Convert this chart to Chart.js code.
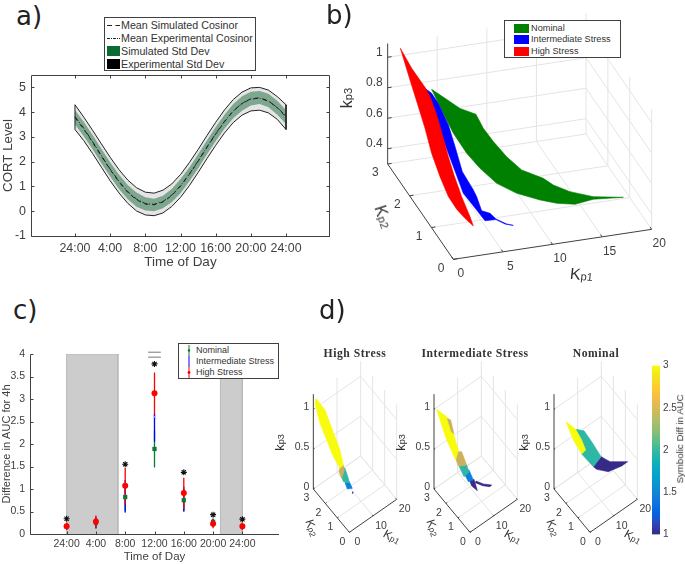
<!DOCTYPE html>
<html>
<head>
<meta charset="utf-8">
<script src="https://cdn.jsdelivr.net/npm/chart.js@4/dist/chart.umd.min.js"></script>
<style>
html, body { margin: 0; padding: 0; background: #fff; }
#page { position: relative; width: 685px; height: 564px; overflow: hidden; font-family: "Liberation Sans", sans-serif; color: #404040; }
canvas { position: absolute; }
.panel { position: absolute; font-family: "DejaVu Sans", sans-serif; font-size: 26px; line-height: 30px; color: #222; }
.legend { position: absolute; background: #fff; border: 1px solid #404040; box-sizing: border-box; color: #333; }
.row { position: absolute; white-space: nowrap; }
.swatch { position: absolute; }
.legend svg { position: absolute; left: 0; top: 0; }
.title3d { position: absolute; font-family: "Liberation Serif", serif; font-weight: bold; font-size: 11.7px; letter-spacing: 0.5px; color: #333; white-space: nowrap; transform: translateX(-50%); }
.klabel { position: absolute; white-space: nowrap; line-height: 1; color: #333; transform-origin: center; }
.klabel sub { font-size: 70%; vertical-align: -30%; line-height: 0; }
</style>
</head>
<body>
<div id="page">
  <canvas id="chartA" width="340" height="215" style="left:0;top:60px"></canvas>
  <canvas id="chartB" width="355" height="290" style="left:330px;top:0"></canvas>
  <canvas id="chartC" width="290" height="229" style="left:0;top:335px"></canvas>
  <canvas id="chartHigh" width="125" height="224" style="left:290px;top:340px"></canvas>
  <canvas id="chartInter" width="125" height="224" style="left:411px;top:340px"></canvas>
  <canvas id="chartNom" width="125" height="224" style="left:531px;top:340px"></canvas>
  <canvas id="chartBar" width="40" height="190" style="left:645px;top:355px"></canvas>

  <div class="panel" style="left:16px;top:1px">a)</div>
  <div class="panel" style="left:326px;top:0">b)</div>
  <div class="panel" style="left:13px;top:295px">c)</div>
  <div class="panel" style="left:319px;top:295px">d)</div>

  <div class="legend" style="left:104px;top:17px;width:152px;height:54px;font-size:10.7px">
    <svg width="152" height="54">
      <line x1="2" x2="15" y1="7.5" y2="7.5" stroke="#222" stroke-dasharray="5 3.5"/>
      <line x1="2" x2="15" y1="20.5" y2="20.5" stroke="#222" stroke-dasharray="3 1 1 1"/>
    </svg>
    <div class="swatch" style="left:2px;top:28px;width:13px;height:10px;background:#0a6b33"></div>
    <div class="swatch" style="left:2px;top:41px;width:13px;height:10px;background:#000"></div>
    <div class="row" style="left:16px;top:1px">Mean Simulated Cosinor</div>
    <div class="row" style="left:16px;top:14px">Mean Experimental Cosinor</div>
    <div class="row" style="left:16px;top:27px">Simulated Std Dev</div>
    <div class="row" style="left:16px;top:40px">Experimental Std Dev</div>
  </div>

  <div class="legend" style="left:504px;top:20px;width:117px;height:38px;font-size:9.2px">
    <div class="swatch" style="left:9px;top:3px;width:15px;height:9px;background:#008000"></div>
    <div class="swatch" style="left:9px;top:14px;width:15px;height:9px;background:#0000ff"></div>
    <div class="swatch" style="left:9px;top:26px;width:15px;height:9px;background:#ff0000"></div>
    <div class="row" style="left:26px;top:2px">Nominal</div>
    <div class="row" style="left:26px;top:13px">Intermediate Stress</div>
    <div class="row" style="left:26px;top:25px">High Stress</div>
  </div>

  <div class="legend" style="left:178px;top:343px;width:101px;height:36px;font-size:9px">
    <svg width="101" height="36">
      <line x1="10" x2="10" y1="1" y2="12" stroke="#0a7a30"/><circle cx="10" cy="6.5" r="1.2" fill="#0a7a30"/>
      <line x1="10" x2="10" y1="12" y2="23" stroke="#0000ff"/>
      <line x1="10" x2="10" y1="23" y2="34" stroke="#ff0000"/><circle cx="10" cy="28.5" r="1.4" fill="#ff0000"/>
    </svg>
    <div class="row" style="left:17px;top:1px">Nominal</div>
    <div class="row" style="left:17px;top:12px">Intermediate Stress</div>
    <div class="row" style="left:17px;top:23px">High Stress</div>
  </div>

  <div class="title3d" style="left:355px;top:347px">High Stress</div>
  <div class="title3d" style="left:475px;top:347px">Intermediate Stress</div>
  <div class="title3d" style="left:596px;top:347px">Nominal</div>

  <div class="klabel" style="left:337px;top:90px;font-size:16px;transform:rotate(-90deg)">k<sub>p3</sub></div>
  <div class="klabel" style="left:371px;top:209px;font-size:16px;transform:rotate(72deg)">K<sub>p2</sub></div>
  <div class="klabel" style="left:570px;top:267px;font-size:16px;transform:rotate(6deg)">K<sub>p1</sub></div>

  <div class="klabel" style="left:271px;top:436px;font-size:13px;transform:rotate(-90deg)">k<sub>p3</sub></div>
  <div class="klabel" style="left:392px;top:436px;font-size:13px;transform:rotate(-90deg)">k<sub>p3</sub></div>
  <div class="klabel" style="left:515px;top:436px;font-size:13px;transform:rotate(-90deg)">k<sub>p3</sub></div>
  <div class="klabel" style="left:303px;top:522px;font-size:12px;transform:rotate(72deg)">K<sub>p2</sub></div>
  <div class="klabel" style="left:424px;top:522px;font-size:12px;transform:rotate(72deg)">K<sub>p2</sub></div>
  <div class="klabel" style="left:544px;top:522px;font-size:12px;transform:rotate(72deg)">K<sub>p2</sub></div>
  <div class="klabel" style="left:383px;top:531px;font-size:12px;transform:rotate(30deg)">K<sub>p1</sub></div>
  <div class="klabel" style="left:504px;top:531px;font-size:12px;transform:rotate(30deg)">K<sub>p1</sub></div>
  <div class="klabel" style="left:624px;top:531px;font-size:12px;transform:rotate(30deg)">K<sub>p1</sub></div>

  <div class="klabel" style="left:635px;top:434px;font-size:9.7px;width:90px;text-align:center;transform:rotate(-90deg)">Symbolic Diff in AUC</div>
</div>

<script>
document.addEventListener("DOMContentLoaded", () => {

/* PANEL A DATA */

const hours = [0,1,2,3,4,5,6,7,8,9,10,11,12,13,14,15,16,17,18,19,20,21,22,23,24];
const expUpper = [4.30,3.80,3.27,2.72,2.18,1.68,1.26,0.95,0.77,0.73,0.85,1.10,1.48,1.96,2.49,3.05,3.59,4.09,4.51,4.81,4.98,5.00,4.89,4.63,4.30];
const expLower = [3.30,2.85,2.33,1.78,1.23,0.74,0.32,0.01,-0.15,-0.18,-0.07,0.19,0.56,1.03,1.56,2.12,2.66,3.16,3.58,3.88,4.05,4.08,3.97,3.71,3.30];
const simUpper = [4.08,3.61,3.08,2.52,1.98,1.48,1.06,0.76,0.56,0.50,0.62,0.90,1.30,1.77,2.30,2.86,3.40,3.90,4.33,4.64,4.82,4.85,4.74,4.46,4.08];
const simLower = [3.50,3.03,2.50,1.94,1.40,0.90,0.48,0.18,0.03,0.00,0.12,0.36,0.73,1.20,1.73,2.29,2.83,3.33,3.75,4.06,4.27,4.33,4.20,3.90,3.52];
const simMean = [3.78,3.31,2.78,2.22,1.68,1.18,0.76,0.46,0.29,0.26,0.37,0.63,1.01,1.48,2.01,2.57,3.11,3.61,4.04,4.35,4.54,4.58,4.46,4.18,3.80];
const expMean = [3.82,3.35,2.81,2.25,1.70,1.21,0.79,0.49,0.31,0.28,0.39,0.65,1.03,1.50,2.03,2.59,3.13,3.63,4.05,4.36,4.53,4.56,4.44,4.19,3.84];
const timeTicks = [0,4,8,12,16,20,24];
const timeLabels = ["24:00","4:00","8:00","12:00","16:00","20:00","24:00"];
const cortTicks = [-1,0,1,2,3,4,5];

/* PANEL C DATA */

const nightShade = [[0,7],[21,24]];
const nominalAuc = [0.17,0.25,0.82,1.89,0.75,0.27,0.17];
const nominalLow = [0.10,0.15,0.47,1.48,0.50,0.18,0.10];
const nominalHigh = [0.24,0.36,1.10,2.30,1.00,0.34,0.24];
const intermediateAuc = [0.17,0.25,0.85,2.60,0.77,0.25,0.17];
const intermediateLow = [0.10,0.12,0.50,2.05,0.50,0.16,0.10];
const intermediateHigh = [0.24,0.38,1.20,2.68,1.05,0.34,0.24];
const highAuc = [0.17,0.28,1.07,3.13,0.91,0.23,0.17];
const highLow = [0.09,0.13,0.65,2.65,0.55,0.13,0.09];
const highHigh = [0.25,0.41,1.47,3.59,1.25,0.33,0.25];
const starHours = [0,8,12,16,20,24];
const starLevels = [0.34,1.55,3.78,1.37,0.43,0.33];
const sigBars = [4.04,3.93];

/* PANEL B DATA: [Kp1, Kp2, Kp3] outlines */

const nominalRibbon = [
  [3.77,2.7,0.815],[4.90,2.6,0.766],[6.19,2.5,0.708],[7.58,2.4,0.676],[7.88,2.2,0.623],[8.45,2.0,0.572],
  [9.35,1.8,0.506],[10.42,1.6,0.450],[12.16,1.4,0.420],[12.73,1.2,0.412],[13.97,1.0,0.398],[15.88,0.8,0.388],
  [18.47,0.6,0.400],[15.66,0.7,0.394],[14.03,0.8,0.356],[12.41,0.9,0.358],[11.17,1.1,0.350],[9.26,1.3,0.371],
  [7.68,1.5,0.410],[6.44,1.7,0.479],[5.54,1.9,0.545],[4.64,2.1,0.643],[4.29,2.4,0.715]
];
const intermediateRibbon = [
  [2.88,2.6,0.851],[3.33,2.5,0.835],[3.78,2.4,0.786],[4.36,2.2,0.680],[4.59,2.0,0.577],[4.88,1.8,0.452],
  [5.55,1.6,0.367],[5.66,1.5,0.343],[5.28,1.1,0.338],[5.91,1.0,0.335],[6.29,0.9,0.315],[6.92,0.7,0.318],
  [7.37,0.6,0.325],[6.76,0.7,0.319],[6.29,0.9,0.311],[5.40,1.0,0.292],[5.00,1.2,0.324],[4.32,1.5,0.378],
  [3.63,2.1,0.609],[2.88,2.6,0.840]
];
const highRibbon = [
  [1.28,3.0,1.046],[1.98,2.8,0.950],[2.88,2.6,0.858],[3.17,2.5,0.815],[3.40,2.3,0.734],[3.63,2.1,0.620],
  [3.69,1.9,0.541],[3.82,1.7,0.461],[4.15,1.5,0.357],[4.11,1.1,0.310],[4.00,0.9,0.292],[3.60,1.1,0.304],
  [3.21,1.3,0.326],[2.81,1.5,0.371],[2.41,1.7,0.464],[2.23,2.0,0.556],[2.00,2.2,0.681],[1.89,2.5,0.783],[1.81,2.8,0.875]
];

/* PANEL D DATA: regions of equal symbolic difference, [Kp1, Kp2, Kp3] */

const highDiff3 = [[1.13,3.0,1.115],[3.92,2.8,0.947],[5.01,2.6,0.793],[6.11,2.4,0.639],[7.21,2.2,0.485],[7.10,1.9,0.354],[5.18,1.8,0.370],[3.38,2.0,0.517],[2.08,2.3,0.699],[0.79,2.6,0.880],[0.70,3.0,1.061]];
const highDiff25 = [[5.18,1.8,0.399],[6.59,1.8,0.382],[7.01,1.8,0.303],[5.89,1.8,0.229],[4.76,1.8,0.336]];
const highDiff2 = [[4.79,1.5,0.445],[5.77,1.5,0.412],[7.18,1.5,0.257],[7.61,1.5,0.194],[5.07,1.5,0.259],[4.37,1.5,0.336]];
const highDiff15 = [[4.25,1.2,0.318],[6.08,1.2,0.292],[7.35,1.2,0.182],[5.24,1.2,0.218]];
const highDiff1 = [[6.48,1.0,0.195],[6.70,1.0,0.185],[6.40,1.0,0.170]];

const interDiff3 = [[1.13,3.0,0.977],[4.34,2.8,0.854],[5.63,2.5,0.673],[6.23,2.2,0.506],[4.08,2.0,0.461],[2.31,2.4,0.676],[1.72,2.7,0.822]];
const interDiff25a = [[3.10,2.5,0.914],[4.51,2.5,0.864],[5.92,2.5,0.659],[4.79,2.5,0.711]];
const interDiff25b = [[4.08,2.0,0.565],[6.62,2.0,0.513],[8.73,2.0,0.302],[5.21,2.0,0.362],[3.80,2.0,0.508]];
const interDiff2 = [[3.46,1.6,0.471],[6.70,1.6,0.416],[7.69,1.6,0.304],[5.58,1.6,0.293]];
const interDiff15 = [[3.77,1.3,0.448],[6.17,1.3,0.419],[8.00,1.3,0.256],[5.89,1.3,0.278]];
const interDiff1a = [[4.79,1.0,0.377],[6.76,1.0,0.344],[8.17,1.0,0.173],[5.77,1.0,0.281]];
const interDiff1b = [[5.58,0.6,0.420],[8.68,0.6,0.318],[12.20,0.6,0.233],[11.49,0.6,0.226],[8.39,0.6,0.303],[5.30,0.6,0.405]];

const nomDiff1 = [[13.27,1.7,0.367],[15.55,1.4,0.311],[19.97,0.8,0.328],[17.44,0.8,0.326],[12.82,1.0,0.315],[9.41,1.3,0.360],[8.51,1.4,0.394]];
const nomDiff2 = [[6.62,2.5,0.703],[9.63,2.4,0.641],[11.35,2.1,0.522],[13.27,1.7,0.367],[8.51,1.4,0.394],[6.62,2.0,0.483]];
const nomDiff3 = [[3.55,2.7,0.826],[6.62,2.5,0.703],[8.14,2.3,0.573],[8.82,2.1,0.470],[6.62,2.0,0.483],[5.13,2.4,0.618]];

/* AXIS TICKS FOR THE 3D PANELS */

const bKp1Ticks = [0,5,10,15,20];
const bKp2Ticks = [0,1,2,3];
const bKp3Ticks = [0.4,0.6,0.8,1];
const dKp1Ticks = [0,10,20];
const dKp2Ticks = [0,1,2,3];
const dKp3Ticks = [0,0.5,1];

/* COLOURBAR */

const barTicks = [1,1.5,2,2.5,3];
const parulaStops = ["#352A87","#3243BA","#0363E1","#0D75DC","#1485D4","#0998D1","#06A7C6","#15B1B4","#38B99E","#65BE86","#92BF73","#B7BD64","#D9BA56","#F8BB44","#FCCE2E","#F5E41D","#F9FB0E"];

const yellow = "#F9FB0E", tan = "#CDB05C", teal = "#2EB7A4", blue = "#0D80DC", navy = "#352A87";
const inkColor = "#404040";
const gridColor = "#e4e4e4";

Chart.defaults.font.family = '"Liberation Sans", sans-serif';
Chart.defaults.color = inkColor;
Chart.defaults.animation = false;

/* PLUGINS */

// inward tick marks and the axis lines, matlab style
const frameTicks = {
    id: "frameTicks",
    afterDatasetsDraw(chart, args, opts) {
        const { ctx, chartArea: a, scales } = chart;
        ctx.save();
        ctx.strokeStyle = inkColor;
        ctx.lineWidth = 1;
        ctx.beginPath();
        const left = Math.round(a.left) + 0.5, bottom = Math.round(a.bottom) + 0.5, top = Math.round(a.top) + 0.5, right = Math.round(a.right) - 0.5;
        ctx.moveTo(left, top); ctx.lineTo(left, bottom); ctx.lineTo(a.right, bottom);
        if (opts.box) { ctx.moveTo(left, top); ctx.lineTo(right, top); ctx.lineTo(right, bottom); }
        scales.x.ticks.forEach(t => {
            const x = Math.round(scales.x.getPixelForValue(t.value)) + 0.5;
            ctx.moveTo(x, bottom); ctx.lineTo(x, bottom - 3);
            if (opts.box) { ctx.moveTo(x, top); ctx.lineTo(x, top + 3); }
        });
        scales.y.ticks.forEach(t => {
            const y = Math.round(scales.y.getPixelForValue(t.value)) + 0.5;
            ctx.moveTo(left, y); ctx.lineTo(left + 3, y);
            if (opts.box) { ctx.moveTo(right, y); ctx.lineTo(right - 3, y); }
        });
        ctx.stroke();
        ctx.restore();
    }
};

// closed polygons and text labels for the projected 3d panels
const surface3d = {
    id: "surface3d",
    beforeDatasetDraw(chart, args) {
        const ds = chart.data.datasets[args.index];
        if (!ds.polygon) return;
        const ctx = chart.ctx;
        ctx.save();
        ctx.beginPath();
        args.meta.data.forEach((p, i) => i ? ctx.lineTo(p.x, p.y) : ctx.moveTo(p.x, p.y));
        ctx.closePath();
        ctx.fillStyle = ds.polygon;
        ctx.strokeStyle = ds.polygon;
        ctx.lineWidth = 0.6;
        ctx.fill();
        ctx.stroke();
        ctx.restore();
    },
    afterDraw(chart) {
        const ctx = chart.ctx;
        chart.data.datasets.forEach((ds, i) => {
            if (!ds.tickText) return;
            ctx.save();
            ctx.font = ds.tickFont + ' "Liberation Sans", sans-serif';
            ctx.fillStyle = inkColor;
            ctx.textAlign = ds.tickAlign;
            ctx.textBaseline = "middle";
            chart.getDatasetMeta(i).data.forEach((p, j) => ctx.fillText(ds.tickText[j], p.x + ds.tickDx, p.y + ds.tickDy));
            ctx.restore();
        });
    }
};

function stackOrder(datasets) {
    // later entries drawn on top
    datasets.forEach((d, i) => { d.order = datasets.length - i; });
    return datasets;
}

function pairs(xs, ys) {
    return xs.map((x, i) => ({ x: x, y: ys[i] }));
}

/* PANEL A */

const bandLine = { pointRadius: 0, borderWidth: 0, tension: 0 };

new Chart(document.getElementById("chartA"), {
    type: "line",
    plugins: [frameTicks],
    data: {
        datasets: stackOrder([
            { ...bandLine, data: pairs(hours, expUpper), fill: "+1", backgroundColor: "rgba(0,0,0,0.1)" },
            { ...bandLine, data: pairs(hours, expLower) },
            { ...bandLine, data: pairs(hours, simUpper), fill: "+1", backgroundColor: "rgba(0,90,40,0.45)" },
            { ...bandLine, data: pairs(hours, simLower) },
            { data: pairs(hours.concat(hours.slice().reverse(), [0]), expUpper.concat(expLower.slice().reverse(), [expUpper[0]])), pointRadius: 0, borderColor: "#222", borderWidth: 1, fill: false },
            { data: pairs(hours, simMean), pointRadius: 0, borderColor: "#222", borderWidth: 1, borderDash: [4, 4], fill: false },
            { data: pairs(hours, expMean), pointRadius: 0, borderColor: "#222", borderWidth: 1, borderDash: [5, 2, 1, 2], fill: false }
        ])
    },
    options: {
        responsive: false,
        events: [],
        layout: { padding: { top: 15, right: 10 } },
        plugins: { legend: { display: false }, tooltip: { enabled: false }, frameTicks: { box: true } },
        scales: {
            x: {
                type: "linear", min: -5, max: 29,
                afterBuildTicks: s => { s.ticks = timeTicks.map(v => ({ value: v })); },
                afterFit: s => { s.height = 39; },
                grid: { display: false, drawTicks: false }, border: { display: false },
                ticks: { font: { size: 12.4 }, padding: 5, maxRotation: 0, autoSkip: false, callback: (v, i) => timeLabels[i] },
                title: { display: true, text: "Time of Day", font: { size: 13.5 }, padding: { top: 0, bottom: 5 } }
            },
            y: {
                min: -1, max: 5.5,
                afterBuildTicks: s => { s.ticks = cortTicks.map(v => ({ value: v })); },
                afterFit: s => { s.width = 31; },
                grid: { display: false, drawTicks: false }, border: { display: false },
                ticks: { font: { size: 12.4 }, padding: 5, callback: v => v },
                title: { display: true, text: "CORT Level", font: { size: 13.3 }, padding: { top: 0, bottom: 0 } }
            }
        }
    }
});

/* PANEL C */

function errorBars(lows, highs) {
    const pts = [];
    timeTicks.forEach((t, i) => {
        pts.push({ x: t, y: lows[i] }, { x: t, y: highs[i] }, { x: t, y: null });
    });
    return pts;
}

function barLine(level) {
    return { data: [{ x: 12 - 0.86, y: level }, { x: 12 + 0.86, y: level }], pointRadius: 0, borderColor: "#777", borderWidth: 1, clip: false };
}

const shadeSets = nightShade.map(s => ({
    data: [{ x: s[0], y: 0 }, { x: s[0], y: 4 }, { x: s[1], y: 4 }, { x: s[1], y: 0 }],
    pointRadius: 0, borderColor: "#b8b8b8", borderWidth: 1, backgroundColor: "#cccccc", fill: "origin"
}));

new Chart(document.getElementById("chartC"), {
    type: "line",
    plugins: [frameTicks],
    data: {
        datasets: stackOrder([
            ...shadeSets,
            { data: errorBars(nominalLow, nominalHigh), pointRadius: 0, borderColor: "#0a7a30", borderWidth: 1.3, spanGaps: false },
            { data: errorBars(intermediateLow, intermediateHigh), pointRadius: 0, borderColor: "#0000ff", borderWidth: 1.3, spanGaps: false },
            { data: errorBars(highLow, highHigh), pointRadius: 0, borderColor: "#ff0000", borderWidth: 1.3, spanGaps: false },
            { data: pairs(timeTicks, intermediateAuc), showLine: false, pointStyle: "crossRot", pointRadius: 2, borderColor: "#a8a8ff", borderWidth: 1 },
            { data: pairs(timeTicks, nominalAuc), showLine: false, pointStyle: "rect", pointRadius: 3, backgroundColor: "#0a7a30", borderWidth: 0 },
            { data: pairs(timeTicks, highAuc), showLine: false, pointStyle: "circle", pointRadius: 3, backgroundColor: "#ff0000", borderWidth: 0 },
            { data: pairs(starHours, starLevels), showLine: false, pointStyle: "star", pointRadius: 3, borderColor: "#111", borderWidth: 1.1, clip: false },
            barLine(sigBars[0]),
            barLine(sigBars[1])
        ])
    },
    options: {
        responsive: false,
        events: [],
        layout: { padding: { top: 19, right: 11 } },
        plugins: { legend: { display: false }, tooltip: { enabled: false }, frameTicks: { box: false } },
        scales: {
            x: {
                type: "linear", min: -5, max: 29,
                afterBuildTicks: s => { s.ticks = timeTicks.map(v => ({ value: v })); },
                afterFit: s => { s.height = 30; },
                grid: { display: false, drawTicks: false }, border: { display: false },
                ticks: { font: { size: 10.5 }, padding: 4, maxRotation: 0, autoSkip: false, callback: (v, i) => timeLabels[i] },
                title: { display: true, text: "Time of Day", font: { size: 11.5 }, padding: { top: 0, bottom: 0 } }
            },
            y: {
                min: 0, max: 4,
                ticks: { stepSize: 0.5, font: { size: 10.5 }, padding: 5, callback: v => v },
                afterFit: s => { s.width = 30; },
                grid: { display: false, drawTicks: false }, border: { display: false },
                title: { display: true, text: "Difference in AUC for 4h", font: { size: 11 }, padding: { top: 0, bottom: 0 } }
            }
        }
    }
});

/* 3D PANELS */

function project(view, p) {
    return {
        x: view.ox + view.e1[0] * p[0] + view.e2[0] * p[1],
        y: view.oy + view.e1[1] * p[0] + view.e2[1] * p[1] + view.e3 * (p[2] - view.z0)
    };
}

function segment(view, a, b, color) {
    return { data: [project(view, a), project(view, b)], showLine: true, pointRadius: 0, borderColor: color, borderWidth: 1, clip: false };
}

function polygon(view, pts, color) {
    return { data: pts.map(p => project(view, p)), polygon: color, showLine: false, pointRadius: 0 };
}

function tickLabels(view, pts, texts, font, align, dx, dy) {
    return { data: pts.map(p => project(view, p)), showLine: false, pointRadius: 0, tickText: texts, tickFont: font, tickAlign: align, tickDx: dx, tickDy: dy };
}

function axes3d(view, k1, k2, k3, k1Len, k3Top) {
    const k1Max = k1[k1.length - 1], k2Max = k2[k2.length - 1], z0 = view.z0;
    const sets = [];
    // floor and the two back walls
    k1.forEach(v => {
        if (v > 0) sets.push(segment(view, [v, 0, z0], [v, k2Max, z0], gridColor));
        if (v > 0) sets.push(segment(view, [v, k2Max, z0], [v, k2Max, k3Top], gridColor));
    });
    k2.forEach(v => {
        if (v > 0) sets.push(segment(view, [0, v, z0], [k1Max, v, z0], gridColor));
        if (v < k2Max) sets.push(segment(view, [k1Max, v, z0], [k1Max, v, k3Top], gridColor));
    });
    k3.forEach(v => {
        sets.push(segment(view, [0, k2Max, v], [k1Max, k2Max, v], gridColor));
        sets.push(segment(view, [k1Max, k2Max, v], [k1Max, 0, v], gridColor));
    });
    // dark axes
    sets.push(segment(view, [0, 0, z0], [k1Max, 0, z0], inkColor));
    sets.push(segment(view, [0, 0, z0], [0, k2Max, z0], inkColor));
    sets.push(segment(view, [0, k2Max, z0], [0, k2Max, k3Top], inkColor));
    // ticks
    k1.forEach(v => sets.push(segment(view, [v, 0, z0], [v, 0.07, z0], inkColor)));
    k2.forEach(v => sets.push(segment(view, [0, v, z0], [k1Len, v, z0], inkColor)));
    k3.forEach(v => sets.push(segment(view, [0, k2Max, v], [k1Len, k2Max, v], inkColor)));
    return sets;
}

function chart3d(id, view, datasets) {
    const el = document.getElementById(id);
    return new Chart(el, {
        type: "scatter",
        plugins: [surface3d],
        data: { datasets: stackOrder(datasets) },
        options: {
            responsive: false,
            events: [],
            layout: { padding: 0 },
            plugins: { legend: { display: false }, tooltip: { enabled: false } },
            scales: {
                x: { display: false, min: 0, max: el.width },
                y: { display: false, min: 0, max: el.height, reverse: true }
            }
        }
    });
}

/* PANEL B */

const viewB = { ox: 123.33, oy: 259.33, e1: [9.917, -1.5], e2: [-21.89, -31.78], e3: -152.5, z0: 0.3 };

chart3d("chartB", viewB, [
    ...axes3d(viewB, bKp1Ticks, bKp2Ticks, bKp3Ticks, 0.4, 1.09),
    polygon(viewB, nominalRibbon, "#008000"),
    polygon(viewB, intermediateRibbon, "#0000ff"),
    polygon(viewB, highRibbon, "#ff0000"),
    tickLabels(viewB, bKp1Ticks.map(v => [v, 0, 0.3]), bKp1Ticks.map(String), "12px", "center", 7.5, 14.7),
    tickLabels(viewB, bKp2Ticks.map(v => [0, v, 0.3]), bKp2Ticks.map(String), "12px", "center", -12.3, 9),
    tickLabels(viewB, bKp3Ticks.map(v => [0, 3, v]), bKp3Ticks.map(String), "12px", "right", -5, -5)
]);

/* PANEL D */

function viewD(ox) {
    return { ox: ox, oy: 192.33, e1: [2.367, -1.65], e2: [-12, -14.44], e3: -79.67, z0: 0 };
}

function axesD(view) {
    return [
        ...axes3d(view, dKp1Ticks, dKp2Ticks, dKp3Ticks, 0.5, 1.19)
    ];
}

function labelsD(view) {
    return [
        tickLabels(view, dKp1Ticks.map(v => [v, 0, 0]), dKp1Ticks.map(String), "10.5px", "center", 8, 10),
        tickLabels(view, dKp2Ticks.map(v => [0, v, 0]), dKp2Ticks.map(String), "10.5px", "center", -7, 9.5),
        tickLabels(view, dKp3Ticks.map(v => [0, 3, v]), dKp3Ticks.map(String), "10.5px", "right", -4, -2)
    ];
}

const viewHigh = viewD(59.33), viewInter = viewD(59), viewNom = viewD(59);

chart3d("chartHigh", viewHigh, [
    ...axesD(viewHigh),
    polygon(viewHigh, highDiff1, navy),
    polygon(viewHigh, highDiff15, blue),
    polygon(viewHigh, highDiff2, teal),
    polygon(viewHigh, highDiff25, tan),
    polygon(viewHigh, highDiff3, yellow),
    ...labelsD(viewHigh)
]);

chart3d("chartInter", viewInter, [
    ...axesD(viewInter),
    polygon(viewInter, interDiff1b, navy),
    polygon(viewInter, interDiff1a, navy),
    polygon(viewInter, interDiff15, blue),
    polygon(viewInter, interDiff2, teal),
    polygon(viewInter, interDiff25b, tan),
    polygon(viewInter, interDiff3, yellow),
    polygon(viewInter, interDiff25a, tan),
    ...labelsD(viewInter)
]);

chart3d("chartNom", viewNom, [
    ...axesD(viewNom),
    polygon(viewNom, nomDiff1, navy),
    polygon(viewNom, nomDiff2, teal),
    polygon(viewNom, nomDiff3, yellow),
    ...labelsD(viewNom)
]);

/* COLOURBAR */

new Chart(document.getElementById("chartBar"), {
    type: "bar",
    data: {
        labels: [""],
        datasets: [{
            data: [[barTicks[0], barTicks[barTicks.length - 1]]],
            barPercentage: 1,
            categoryPercentage: 1,
            backgroundColor: ctx => {
                const a = ctx.chart.chartArea;
                if (!a) return parulaStops[0];
                const g = ctx.chart.ctx.createLinearGradient(0, a.bottom, 0, a.top);
                parulaStops.forEach((c, i) => g.addColorStop(i / (parulaStops.length - 1), c));
                return g;
            }
        }]
    },
    options: {
        responsive: false,
        events: [],
        layout: { padding: { left: 7, top: 10.5, bottom: 10.5 } },
        plugins: { legend: { display: false }, tooltip: { enabled: false } },
        scales: {
            x: { display: false },
            y: {
                position: "right", min: 1, max: 3,
                afterBuildTicks: s => { s.ticks = barTicks.map(v => ({ value: v })); },
                afterFit: s => { s.width = 25; },
                grid: { display: false, drawTicks: false }, border: { display: false },
                ticks: { font: { size: 10 }, padding: 3, callback: v => v, align: "center" }
            }
        }
    }
});

});
</script>
</body>
</html>
